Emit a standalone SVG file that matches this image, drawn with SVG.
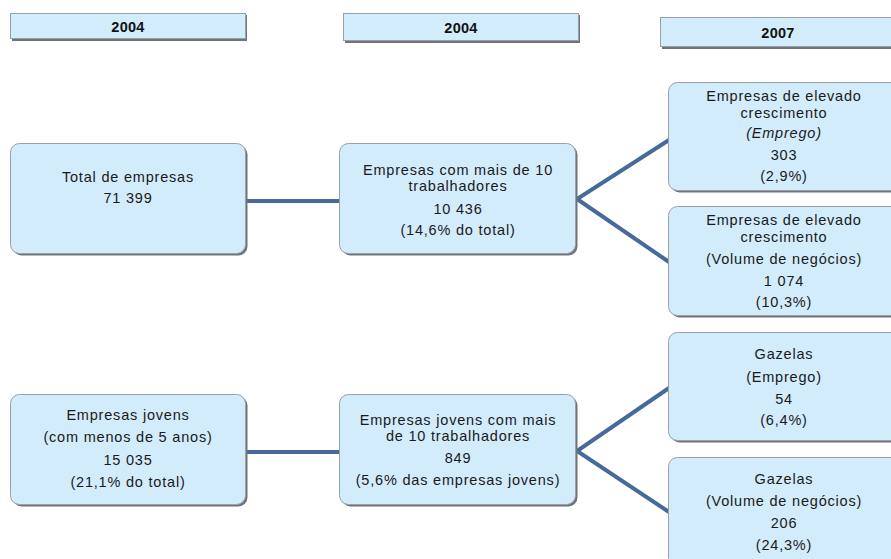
<svg xmlns="http://www.w3.org/2000/svg" width="891" height="559" viewBox="0 0 891 559">
<style>
.box{fill:#d3ecfc;stroke:#9aa0a8;stroke-width:1}
.sh{fill:#6f747b}
.t{font-family:"Liberation Sans",Arial,sans-serif;font-size:14.5px;fill:#1a1a1a;text-anchor:middle;letter-spacing:0.8px}
.h{font-family:"Liberation Sans",Arial,sans-serif;font-size:14.5px;font-weight:bold;fill:#111;text-anchor:middle;letter-spacing:0.3px}
.c{stroke:#47699b;stroke-width:4;fill:none;stroke-linejoin:miter}
</style>
<rect width="891" height="559" fill="#fff"/>
<g id="h1"><rect class="sh" x="12" y="15" width="235" height="26"/><rect class="box" x="10.5" y="13.5" width="235" height="25"/><text class="h" x="128" y="32">2004</text></g>
<g id="h2"><rect class="sh" x="345" y="15" width="235" height="28"/><rect class="box" x="343.5" y="13.5" width="235" height="27"/><text class="h" x="461" y="33">2004</text></g>
<g id="h3"><rect class="sh" x="662" y="19" width="235" height="30"/><rect class="box" x="660.5" y="17.5" width="235" height="29"/><text class="h" x="778" y="38">2007</text></g>
<g id="connectors">
<path class="c" d="M246 201H340"/>
<path class="c" d="M669 140L577 199L669 262"/>
<path class="c" d="M246 452H340"/>
<path class="c" d="M669 388L577 451L669 512"/>
</g>
<g id="n1"><rect class="sh" x="12.5" y="145.5" width="235" height="110" rx="9"/><rect class="box" x="10.5" y="143.5" width="235" height="110" rx="9"/>
<text class="t" x="128" y="182">Total de empresas</text><text class="t" x="128" y="203">71 399</text></g>
<g id="n2"><rect class="sh" x="341.5" y="145.5" width="236" height="110" rx="9"/><rect class="box" x="339.5" y="143.5" width="236" height="110" rx="9"/>
<text class="t" x="458" y="175">Empresas com mais de 10</text><text class="t" x="458" y="191">trabalhadores</text><text class="t" x="458" y="214">10 436</text><text class="t" x="458" y="235">(14,6% do total)</text></g>
<g id="n3"><rect class="sh" x="670.5" y="84.5" width="236" height="108" rx="9"/><rect class="box" x="668.5" y="82.5" width="236" height="108" rx="9"/>
<text class="t" x="784" y="101">Empresas de elevado</text><text class="t" x="784" y="118">crescimento</text><text class="t" x="784" y="138" font-style="italic">(Emprego)</text><text class="t" x="784" y="160">303</text><text class="t" x="784" y="181">(2,9%)</text></g>
<g id="n4"><rect class="sh" x="670.5" y="208.5" width="236" height="109" rx="9"/><rect class="box" x="668.5" y="206.5" width="236" height="109" rx="9"/>
<text class="t" x="784" y="225">Empresas de elevado</text><text class="t" x="784" y="242">crescimento</text><text class="t" x="784" y="264">(Volume de negócios)</text><text class="t" x="784" y="286">1 074</text><text class="t" x="784" y="307">(10,3%)</text></g>
<g id="n5"><rect class="sh" x="12.5" y="396.5" width="235" height="110" rx="9"/><rect class="box" x="10.5" y="394.5" width="235" height="110" rx="9"/>
<text class="t" x="128" y="420">Empresas jovens</text><text class="t" x="128" y="442">(com menos de 5 anos)</text><text class="t" x="128" y="465">15 035</text><text class="t" x="128" y="487">(21,1% do total)</text></g>
<g id="n6"><rect class="sh" x="341.5" y="396.5" width="236" height="110" rx="9"/><rect class="box" x="339.5" y="394.5" width="236" height="110" rx="9"/>
<text class="t" x="458" y="425">Empresas jovens com mais</text><text class="t" x="458" y="441">de 10 trabalhadores</text><text class="t" x="458" y="463">849</text><text class="t" x="458" y="485">(5,6% das empresas jovens)</text></g>
<g id="n7"><rect class="sh" x="670.5" y="334.5" width="236" height="108" rx="9"/><rect class="box" x="668.5" y="332.5" width="236" height="108" rx="9"/>
<text class="t" x="784" y="359">Gazelas</text><text class="t" x="784" y="382">(Emprego)</text><text class="t" x="784" y="404">54</text><text class="t" x="784" y="425">(6,4%)</text></g>
<g id="n8"><rect class="sh" x="670.5" y="459.5" width="236" height="110" rx="9"/><rect class="box" x="668.5" y="457.5" width="236" height="110" rx="9"/>
<text class="t" x="784" y="484">Gazelas</text><text class="t" x="784" y="506">(Volume de negócios)</text><text class="t" x="784" y="528">206</text><text class="t" x="784" y="550">(24,3%)</text></g>
</svg>
